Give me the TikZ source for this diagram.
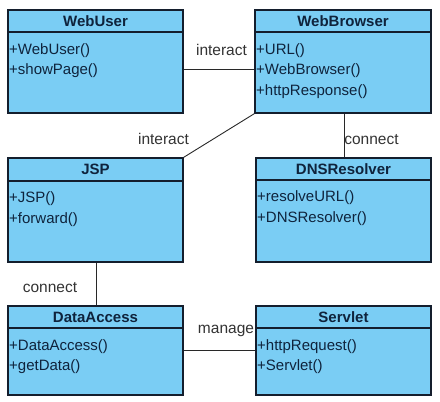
\documentclass[tikz,border=0pt]{standalone}
\usepackage{fontspec}
\setmainfont{Liberation Sans}
\definecolor{clsfill}{RGB}{122,205,244}
\definecolor{clsline}{RGB}{20,30,45}
\definecolor{clstext}{RGB}{15,35,60}
\definecolor{conline}{RGB}{40,40,40}
\begin{document}
\begin{tikzpicture}[x=1pt,y=-1pt,
  cls/.style={draw=clsline,fill=clsfill,line width=1.3pt,rectangle,inner sep=0pt},
  clstitle/.style={font=\fontsize{15}{18}\selectfont\bfseries,text=clstext,anchor=base,inner sep=0pt},
  meth/.style={font=\fontsize{15}{18}\selectfont,text=clstext,anchor=base west,inner sep=0pt},
  conn/.style={draw=conline,line width=0.9pt},
  lbl/.style={font=\fontsize{15.5}{18}\selectfont,text=black!80,inner sep=0pt}]
\useasboundingbox (0,0) rectangle (440,402);
\newcommand{\umlbox}[7]{%
  \node[cls,minimum width={#4-#2},minimum height={#5-#3}] (#1) at ({(#2+#4)/2},{(#3+#5)/2}) {};
  \draw[draw=clsline,line width=1.1pt] (#2,#6) -- (#4,#6);
  \node[clstitle] (#1-t) at ({(#2+#4)/2},{#3+16.5}) {#7};
}
% boxes
\umlbox{webuser}{8}{10}{183}{113}{32}{WebUser}
\node[meth] (webuser-m1) at (9,54) {+WebUser()};
\node[meth] (webuser-m2) at (9,74.5) {+showPage()};

\umlbox{webbrowser}{255}{10}{431}{113}{32}{WebBrowser}
\node[meth] (webbrowser-m1) at (256,54) {+URL()};
\node[meth] (webbrowser-m2) at (256,74.5) {+WebBrowser()};
\node[meth] (webbrowser-m3) at (256,95) {+httpResponse()};

\umlbox{jsp}{8}{158}{183}{262}{181}{JSP}
\node[meth] (jsp-m1) at (9,202.5) {+JSP()};
\node[meth] (jsp-m2) at (9,223) {+forward()};

\umlbox{dns}{256}{158}{431}{262}{180}{DNSResolver}
\node[meth] (dns-m1) at (257,201.5) {+resolveURL()};
\node[meth] (dns-m2) at (257,222) {+DNSResolver()};

\umlbox{data}{8}{306}{183}{395}{328}{DataAccess}
\node[meth] (data-m1) at (9,350) {+DataAccess()};
\node[meth] (data-m2) at (9,370.5) {+getData()};

\umlbox{servlet}{256}{306}{431}{395}{328}{Servlet}
\node[meth] (servlet-m1) at (257,350) {+httpRequest()};
\node[meth] (servlet-m2) at (257,370.5) {+Servlet()};

% connectors
\coordinate (h1) at (0,69);
\coordinate (v1) at (344,0);
\coordinate (v2) at (96,0);
\coordinate (h2) at (0,350);
\draw[conn] (webuser.east |- h1) -- (webbrowser.west |- h1);
\draw[conn] (webbrowser.south west) -- (jsp.north east);
\draw[conn] (webbrowser.south -| v1) -- (dns.north -| v1);
\draw[conn] (jsp.south -| v2) -- (data.north -| v2);
\draw[conn] (data.east |- h2) -- (servlet.west |- h2);

% labels
\node[lbl] (l1) at (221.5,50) {interact};
\node[lbl] (l2) at (163.5,139) {interact};
\node[lbl] (l3) at (371.5,140) {connect};
\node[lbl] (l4) at (50,288) {connect};
\node[lbl] (l5) at (226,331) {manage};
\end{tikzpicture}
\end{document}
